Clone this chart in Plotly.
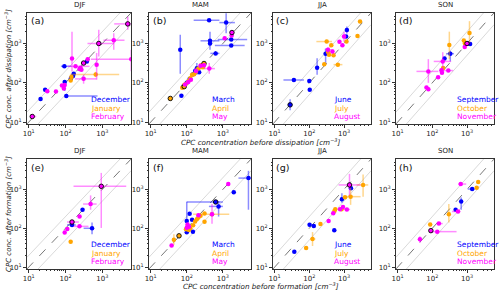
import numpy as np
import plotly.graph_objects as go

# ---------------- data: (x, y, xlo, xhi, ylo, yhi, highlighted) ----------------
N = None
seasons = ["DJF", "MAM", "JJA", "SON"]
months = [["December", "January", "February"],
          ["March", "April", "May"],
          ["June", "July", "August"],
          ["September", "October", "November"]]
panel_labels = ["(a)", "(b)", "(c)", "(d)", "(e)", "(f)", "(g)", "(h)"]
tick_vals = [10, 100, 1000]
tick_text = ["10<sup>1</sup>", "10<sup>2</sup>", "10<sup>3</sup>"]
minor_vals = [20, 30, 40, 50, 60, 70, 80, 90, 200, 300, 400, 500, 600, 700, 800, 900,
              2000, 3000, 4000, 5000]
axis_limits = [9, 6000]

# (a) DJF dissipation
a_m1 = [(21, 39, N, N, N, N, 0), (28, 67, N, N, N, N, 0), (105, 46, 100, 740, N, N, 0),
        (95, 105, N, N, 62, 105, 0), (93, 264, 75, 145, N, N, 0), (140, 130, N, N, N, N, 0),
        (160, 150, N, N, N, N, 0), (167, 170, N, N, N, N, 0), (380, 350, N, N, N, N, 0)]
a_m2 = [(138, 115, N, N, N, N, 0), (145, 140, N, N, N, N, 0), (660, 162, 132, 2870, 140, 190, 0)]
a_m3 = [(12.5, 13.9, 11, 16, N, N, 1), (32, 61, N, N, N, N, 0), (55, 60, N, N, N, N, 0),
        (80, 85, N, N, N, N, 0), (90, 72, N, N, N, N, 0), (95, 88, N, N, N, N, 0),
        (150, 417, N, N, 195, 2000, 0), (187, 262, 118, 450, N, N, 0), (240, 224, N, N, N, N, 0),
        (270, 215, N, N, N, N, 0), (255, 240, N, N, N, N, 0), (310, 126, 182, 690, 95, 160, 0),
        (310, 318, N, N, N, N, 1), (400, 400, N, N, N, N, 0), (700, 287, N, N, 120, 575, 0),
        (800, 1000, 395, 2100, 470, 2240, 1), (2040, 1210, 1070, 4000, 690, 1820, 0),
        (6100, 400, 490, 9000, 196, 690, 0), (4900, 3150, 2100, 9000, 2240, 4800, 1)]
# (b) MAM dissipation
b_m1 = [(71, 47, N, N, N, N, 0), (66, 690, N, N, 170, 1660, 0), (80, 80, N, N, N, N, 0),
        (100, 100, N, N, N, N, 0), (120, 125, N, N, N, N, 0), (150, 165, N, N, N, N, 0),
        (170, 200, N, N, N, N, 0), (190, 235, N, N, 160, 320, 0), (220, 185, N, N, N, N, 0),
        (415, 3900, 155, 800, N, N, 0), (1230, 3400, 800, 2150, 1830, 5900, 0),
        (440, 1170, 240, 800, 690, 2000, 0), (440, 1000, N, N, N, N, 0),
        (630, 560, 450, 800, N, N, 0), (1700, 1260, 720, 4700, N, N, 0),
        (1700, 890, 600, 4000, N, N, 0)]
b_m2 = [(35, 40, N, N, N, N, 1), (75, 75, N, N, N, N, 0), (85, 88, N, N, N, N, 0),
        (95, 95, N, N, N, N, 0), (110, 110, N, N, N, N, 0), (125, 130, N, N, N, N, 0),
        (140, 160, N, N, N, N, 0), (160, 165, N, N, N, N, 0), (180, 190, N, N, N, N, 0),
        (210, 230, 170, 260, N, N, 0), (250, 280, N, N, N, N, 0), (300, 310, N, N, N, N, 1),
        (280, 250, N, N, N, N, 0), (85, 80, N, N, N, N, 1)]
b_m3 = [(90, 90, N, N, N, N, 0), (110, 105, N, N, N, N, 0), (130, 120, N, N, N, N, 0),
        (180, 200, N, N, N, N, 0), (240, 270, N, N, N, N, 0), (300, 280, N, N, N, N, 0),
        (420, 230, 300, 600, 170, 320, 0), (1120, 1350, N, N, N, N, 0),
        (1750, 1600, N, N, N, N, 0), (1780, 1900, N, N, N, N, 1)]
# (c) JJA dissipation
c_m1 = [(28, 27.5, N, N, 20, 38, 1), (36, 118, 18, 70, N, N, 0), (100, 112, N, N, N, N, 0),
        (103, 67, N, N, N, N, 0), (168, 240, N, N, 160, 420, 0), (295, 550, N, N, 300, 750, 0),
        (1210, 2200, N, N, 1800, 2700, 0), (1150, 1500, N, N, N, N, 0)]
c_m2 = [(270, 295, N, N, N, N, 0), (317, 1120, 160, 450, N, N, 0), (350, 600, N, N, N, N, 0),
        (370, 520, N, N, N, N, 0), (430, 900, N, N, N, N, 0), (500, 500, N, N, N, N, 0),
        (665, 290, 500, 900, N, N, 0), (1180, 1120, N, N, N, N, 0),
        (2450, 1550, N, N, N, N, 0), (2900, 3650, N, N, N, N, 0)]
c_m3 = [(345, 690, 280, 500, 550, 800, 0), (465, 630, N, N, N, N, 0), (740, 1100, N, N, N, N, 0),
        (900, 900, N, N, N, N, 0), (1000, 1500, N, N, 1100, 2000, 0)]
# (d) SON dissipation
d_m1 = [(225, 415, N, N, N, N, 0), (330, 550, 250, 420, 350, 650, 0),
        (1070, 1000, N, N, N, N, 0), (1230, 970, N, N, N, N, 0)]
d_m2 = [(205, 237, N, N, N, N, 0), (310, 910, N, N, 400, 2000, 0), (810, 1200, N, N, N, N, 0),
        (870, 1000, N, N, N, N, 0), (1180, 1860, N, N, 1000, 3700, 0)]
d_m3 = [(68, 76, N, N, N, N, 0), (77, 69, N, N, N, N, 0), (77, 195, 35, 150, 100, 400, 0),
        (147, 138, N, N, N, N, 0), (183, 210, N, N, N, N, 0), (190, 180, N, N, N, N, 0),
        (200, 350, 110, 350, 200, 600, 0), (290, 205, 200, 400, N, N, 0),
        (860, 810, N, N, N, N, 0), (1000, 1000, N, N, N, N, 1)]
# (e) DJF formation
e_m1 = [(150, 122, 110, 190, N, N, 0), (290, 300, N, N, N, N, 0), (525, 100, 310, 600, 70, 140, 0)]
e_m2 = [(138, 45, N, N, N, N, 0)]
e_m3 = [(95, 78, N, N, N, N, 0), (112, 96, N, N, N, N, 0), (150, 145, 110, 230, N, N, 1),
        (240, 112, 170, 420, N, N, 0), (240, 200, N, N, N, N, 0), (480, 420, 300, 700, 300, 700, 0),
        (935, 1200, 165, 4450, 102, 2650, 1)]
# (f) MAM formation
f_m1 = [(100, 154, N, N, 80, 480, 0), (120, 235, N, N, N, N, 0), (148, 81, N, N, N, N, 0),
        (100, 79, N, N, N, N, 0), (140, 165, N, N, N, N, 0), (630, 475, 100, 1000, N, N, 1),
        (760, 365, 410, 1000, 200, 500, 0), (2000, 840, N, N, N, N, 0),
        (5100, 1950, 2700, 8000, 300, 3000, 0)]
f_m2 = [(44, 51, N, N, 38, 70, 0), (61, 64, N, N, N, N, 1), (95, 95, N, N, N, N, 0),
        (105, 110, N, N, N, N, 0), (115, 90, N, N, N, N, 0), (125, 100, N, N, N, N, 0),
        (150, 120, N, N, N, N, 0), (170, 150, N, N, N, N, 0), (190, 170, N, N, N, N, 0),
        (210, 190, N, N, N, N, 0), (240, 210, N, N, N, N, 0), (310, 240, N, N, N, N, 0),
        (310, 148, N, N, N, N, 0), (500, 230, 150, 1500, N, N, 0)]
f_m3 = [(38, 36, N, N, N, N, 0), (105, 125, N, N, N, N, 0), (115, 110, N, N, N, N, 0),
        (100, 103, N, N, N, N, 0), (210, 215, N, N, N, N, 0), (500, 230, N, N, 130, 420, 0),
        (1410, 1370, N, N, N, N, 0)]
# (g) JJA formation
g_m1 = [(37, 25, N, N, N, N, 0), (102, 124, N, N, N, N, 0), (135, 115, N, N, N, N, 0),
        (525, 89, N, N, N, N, 0), (870, 560, N, N, 450, 800, 0), (1590, 1070, N, N, N, N, 0)]
g_m2 = [(81, 31, N, N, N, N, 0), (124, 53, 105, 150, 35, 80, 0), (210, 129, N, N, N, N, 0),
        (530, 280, N, N, N, N, 0), (560, 310, N, N, N, N, 0), (1070, 630, N, N, N, N, 0),
        (1550, 650, 1150, 3000, 400, 1100, 0), (3550, 1300, 2300, 5000, 650, 2400, 0),
        (850, 310, N, N, N, N, 0)]
g_m3 = [(360, 155, N, N, N, N, 0), (490, 245, N, N, N, N, 0), (770, 310, N, N, N, N, 0),
        (935, 355, N, N, N, N, 0), (1210, 305, 1000, 1500, N, N, 0),
        (1440, 1300, 700, 3000, 700, 2500, 1)]
# (h) SON formation
h_m1 = [(470, 300, N, N, N, N, 0), (680, 490, N, N, 300, 620, 0), (1410, 1020, 1050, 1700, N, N, 0)]
h_m2 = [(87, 126, N, N, N, N, 0), (300, 230, N, N, 140, 420, 0), (1900, 1100, N, N, N, N, 0),
        (2100, 1550, N, N, N, N, 0)]
h_m3 = [(44, 52, N, N, 42, 62, 0), (91, 87, N, N, N, N, 1), (139, 82, 95, 500, N, N, 0),
        (155, 132, 130, 200, N, N, 0), (550, 270, 370, 650, N, N, 0), (660, 1370, 550, 950, N, N, 0)]

panels = [[a_m1, a_m2, a_m3], [b_m1, b_m2, b_m3], [c_m1, c_m2, c_m3], [d_m1, d_m2, d_m3],
          [e_m1, e_m2, e_m3], [f_m1, f_m2, f_m3], [g_m1, g_m2, g_m3], [h_m1, h_m2, h_m3]]

# ---------------- styling ----------------
colors = ["#0000ff", "#ffa500", "#ff00ff"]
err_colors = ["rgba(0,0,255,0.45)", "rgba(255,165,0,0.45)", "rgba(255,0,255,0.45)"]
FONT = "DejaVu Sans"
x_domains = [[0.054, 0.262], [0.298, 0.502], [0.546, 0.742], [0.792, 0.988]]
y_domains = [[0.577, 0.956], [0.082, 0.457]]

fig = go.Figure()
ann = []
for p in range(8):
    row, col = divmod(p, 4)
    xa = "x" if p == 0 else f"x{p+1}"
    ya = "y" if p == 0 else f"y{p+1}"
    xkey = "xaxis" if p == 0 else f"xaxis{p+1}"
    ykey = "yaxis" if p == 0 else f"yaxis{p+1}"

    # reference lines 1:1, 2:1, 1:2
    lx = np.array(axis_limits, dtype=float)
    fig.add_trace(go.Scatter(x=lx, y=lx * 2, mode="lines", xaxis=xa, yaxis=ya,
                             line=dict(color="#cfcfcf", width=0.8), hoverinfo="skip", showlegend=False))
    fig.add_trace(go.Scatter(x=lx, y=lx / 2, mode="lines", xaxis=xa, yaxis=ya,
                             line=dict(color="#cfcfcf", width=0.8), hoverinfo="skip", showlegend=False))
    fig.add_trace(go.Scatter(x=lx, y=lx, mode="lines", xaxis=xa, yaxis=ya,
                             line=dict(color="#555555", width=0.8, dash="dash"),
                             hoverinfo="skip", showlegend=False))

    for m, series in enumerate(panels[p]):
        xs = [s[0] for s in series]
        ys = [s[1] for s in series]
        xm = [(s[0] - s[2]) if s[2] is not None else 0 for s in series]
        xp = [(s[3] - s[0]) if s[3] is not None else 0 for s in series]
        ymn = [(s[1] - s[4]) if s[4] is not None else 0 for s in series]
        ypl = [(s[5] - s[1]) if s[5] is not None else 0 for s in series]
        lw = [0.9 if s[6] else 0 for s in series]
        fig.add_trace(go.Scatter(
            x=xs, y=ys, mode="markers", xaxis=xa, yaxis=ya, showlegend=False,
            marker=dict(color=colors[m], size=4.5, symbol="circle",
                        line=dict(color="black", width=lw)),
            error_x=dict(type="data", symmetric=False, array=xp, arrayminus=xm,
                         color=err_colors[m], thickness=1.5, width=0),
            error_y=dict(type="data", symmetric=False, array=ypl, arrayminus=ymn,
                         color=err_colors[m], thickness=1.5, width=0)))

    ax_common = dict(type="log", range=[np.log10(axis_limits[0]), np.log10(axis_limits[1])],
                     automargin=False,
                     showline=True, linecolor="#333333", linewidth=0.8, mirror=True,
                     ticks="outside", ticklen=3, tickwidth=0.8, tickcolor="#333333",
                     tickmode="array", tickvals=tick_vals, ticktext=tick_text,
                     tickfont=dict(family=FONT, size=7, color="#222222"),
                     minor=dict(ticks="outside", ticklen=1.5, tickwidth=0.5, tickcolor="#333333",
                                tickmode="array", tickvals=minor_vals, showgrid=False),
                     showgrid=False, zeroline=False)
    fig.layout[xkey] = dict(ax_common, domain=x_domains[col], anchor=ya)
    fig.layout[ykey] = dict(ax_common, domain=y_domains[row], anchor=xa)

    # season title
    ann.append(dict(text=seasons[col], xref=f"{xa} domain", yref=f"{ya} domain",
                    x=0.5, y=1.02, xanchor="center", yanchor="bottom", showarrow=False,
                    font=dict(family=FONT, size=7, color="#222222")))
    # panel label
    ann.append(dict(text=panel_labels[p], xref=f"{xa} domain", yref=f"{ya} domain",
                    x=0.015, y=0.995, xanchor="left", yanchor="top", showarrow=False,
                    font=dict(family=FONT, size=9.5, color="#111111")))
    # month legend texts
    for m in range(3):
        ann.append(dict(text=months[col][m], xref=f"{xa} domain", yref=f"{ya} domain",
                        x=0.6, y=0.22 - m * 0.078, xanchor="left", yanchor="middle",
                        showarrow=False, font=dict(family=FONT, size=7.5, color=colors[m])))

# axis titles
ann.append(dict(text="<i>CPC conc. after dissipation [cm<sup>−3</sup>]</i>", xref="paper", yref="paper",
                x=0.016, y=0.766, textangle=-90, showarrow=False, xanchor="center", yanchor="middle",
                font=dict(family=FONT, size=7, color="#222222")))
ann.append(dict(text="<i>CPC conc. after formation [cm<sup>−3</sup>]</i>", xref="paper", yref="paper",
                x=0.016, y=0.27, textangle=-90, showarrow=False, xanchor="center", yanchor="middle",
                font=dict(family=FONT, size=7, color="#222222")))
ann.append(dict(text="<i>CPC concentration before dissipation [cm<sup>−3</sup>]</i>", xref="paper",
                yref="paper", x=0.522, y=0.515, showarrow=False, xanchor="center", yanchor="middle",
                font=dict(family=FONT, size=7.2, color="#222222")))
ann.append(dict(text="<i>CPC concentration before formation [cm<sup>−3</sup>]</i>", xref="paper",
                yref="paper", x=0.522, y=0.0, showarrow=False, xanchor="center", yanchor="bottom",
                font=dict(family=FONT, size=7.2, color="#222222")))

fig.update_layout(width=500, height=293, margin=dict(l=0, r=0, t=0, b=0),
                  paper_bgcolor="white", plot_bgcolor="white", annotations=ann,
                  showlegend=False)
fig.write_html("out.html", config={"displayModeBar": False},
               post_script="document.body.style.margin='0';")
